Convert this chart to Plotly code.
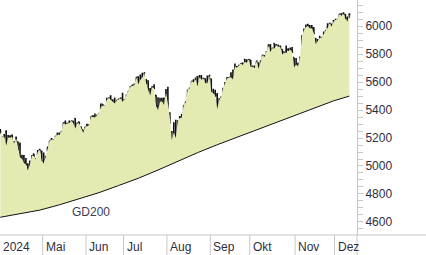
import plotly.graph_objects as go

dates = [
 "2024-04-01","2024-04-02","2024-04-03","2024-04-04","2024-04-05","2024-04-08","2024-04-09","2024-04-10","2024-04-11","2024-04-12",
 "2024-04-15","2024-04-16","2024-04-17","2024-04-18","2024-04-19","2024-04-22","2024-04-23","2024-04-24","2024-04-25","2024-04-26",
 "2024-04-29","2024-04-30",
 "2024-05-01","2024-05-02","2024-05-03","2024-05-06","2024-05-07","2024-05-08","2024-05-09","2024-05-10","2024-05-13","2024-05-14",
 "2024-05-15","2024-05-16","2024-05-17","2024-05-20","2024-05-21","2024-05-22","2024-05-23","2024-05-24","2024-05-28","2024-05-29",
 "2024-05-30","2024-05-31",
 "2024-06-03","2024-06-04","2024-06-05","2024-06-06","2024-06-07","2024-06-10","2024-06-11","2024-06-12","2024-06-13","2024-06-14",
 "2024-06-17","2024-06-18","2024-06-20","2024-06-21","2024-06-24","2024-06-25","2024-06-26","2024-06-27","2024-06-28",
 "2024-07-01","2024-07-02","2024-07-03","2024-07-05","2024-07-08","2024-07-09","2024-07-10","2024-07-11","2024-07-12","2024-07-15",
 "2024-07-16","2024-07-17","2024-07-18","2024-07-19","2024-07-22","2024-07-23","2024-07-24","2024-07-25","2024-07-26","2024-07-29",
 "2024-07-30","2024-07-31",
 "2024-08-01","2024-08-02","2024-08-05","2024-08-06","2024-08-07","2024-08-08","2024-08-09","2024-08-12","2024-08-13","2024-08-14",
 "2024-08-15","2024-08-16","2024-08-19","2024-08-20","2024-08-21","2024-08-22","2024-08-23","2024-08-26","2024-08-27","2024-08-28",
 "2024-08-29","2024-08-30",
 "2024-09-03","2024-09-04","2024-09-05","2024-09-06","2024-09-09","2024-09-10","2024-09-11","2024-09-12","2024-09-13","2024-09-16",
 "2024-09-17","2024-09-18","2024-09-19","2024-09-20","2024-09-23","2024-09-24","2024-09-25","2024-09-26","2024-09-27","2024-09-30",
 "2024-10-01","2024-10-02","2024-10-03","2024-10-04","2024-10-07","2024-10-08","2024-10-09","2024-10-10","2024-10-11","2024-10-14",
 "2024-10-15","2024-10-16","2024-10-17","2024-10-18","2024-10-21","2024-10-22","2024-10-23","2024-10-24","2024-10-25","2024-10-28",
 "2024-10-29","2024-10-30","2024-10-31",
 "2024-11-01","2024-11-04","2024-11-05","2024-11-06","2024-11-07","2024-11-08","2024-11-11","2024-11-12","2024-11-13","2024-11-14",
 "2024-11-15","2024-11-18","2024-11-19","2024-11-20","2024-11-21","2024-11-22","2024-11-25","2024-11-26","2024-11-27","2024-11-29",
 "2024-12-02","2024-12-03","2024-12-04","2024-12-05","2024-12-06","2024-12-09","2024-12-10","2024-12-11",
]

opens = [
 5258.0,5204.3,5194.4,5244.1,5159.0,5211.4,5217.0,5167.9,5173.0,5171.5,
 5149.7,5064.6,5069.0,5031.5,5005.4,4987.3,5028.9,5084.9,5019.9,5084.7,
 5114.1,5103.8,
 5029.0,5049.3,5122.8,5142.4,5187.2,5169.0,5189.0,5225.5,5233.1,5221.1,
 5263.3,5310.1,5303.1,5305.4,5298.7,5319.3,5340.3,5281.5,5315.9,5278.7,
 5259.8,5243.2,
 5297.2,5278.2,5314.5,5357.8,5343.8,5341.2,5353.0,5409.1,5441.9,5424.1,
 5431.1,5476.2,5500.0,5466.8,5459.6,5460.7,5460.7,5473.6,5488.5,
 5471.1,5461.8,5507.4,5537.9,5572.8,5584.2,5591.3,5635.2,5590.8,5638.2,
 5644.1,5610.2,5608.6,5543.4,5532.0,5565.3,5505.8,5428.7,5433.7,5476.6,
 5478.7,5505.6,
 5537.8,5376.6,5151.1,5206.4,5293.1,5252.6,5314.2,5351.9,5377.0,5442.7,
 5501.1,5530.5,5557.2,5602.9,5603.1,5637.8,5602.9,5639.7,5602.9,5624.5,
 5607.3,5612.7,
 5623.9,5506.7,5520.1,5507.3,5442.1,5490.5,5496.4,5557.5,5603.3,5615.1,
 5655.5,5641.7,5702.6,5709.2,5711.9,5727.1,5733.7,5762.2,5755.4,5726.5,
 5757.7,5698.1,5698.2,5737.8,5737.8,5719.1,5751.8,5778.4,5775.1,5829.8,
 5866.7,5816.6,5875.6,5859.4,5857.8,5832.7,5834.5,5817.8,5826.8,5833.9,
 5819.7,5832.7,5775.3,
 5723.2,5725.2,5722.4,5864.9,5947.2,5976.8,6008.9,6003.6,5985.8,5989.7,
 5912.8,5874.2,5870.6,5914.7,5924.5,5944.4,5992.3,6000.0,6014.1,6004.0,
 6040.1,6041.7,6069.4,6089.0,6081.4,6083.0,6057.6,6060.2,
]

highs = [
 5264.0,5208.3,5228.8,5256.6,5222.2,5219.6,5224.8,5178.4,5211.8,5175.0,
 5168.4,5079.8,5078.0,5056.7,5019.0,5038.8,5076.1,5089.5,5057.8,5114.6,
 5123.5,5110.8,
 5096.1,5073.2,5139.1,5181.0,5200.2,5192.0,5215.3,5239.7,5237.3,5250.4,
 5311.8,5325.5,5305.5,5325.3,5324.3,5323.2,5341.9,5311.7,5315.9,5282.3,
 5260.2,5280.3,
 5302.1,5298.8,5354.2,5362.4,5375.1,5365.8,5376.0,5447.3,5441.9,5432.4,
 5488.5,5490.4,5505.5,5478.3,5490.7,5472.9,5483.1,5490.8,5523.6,
 5479.6,5509.7,5539.3,5570.3,5583.1,5590.8,5635.4,5642.5,5655.6,5666.9,
 5669.7,5622.5,5614.1,5557.5,5570.4,5585.3,5508.0,5491.6,5488.3,5487.7,
 5489.5,5551.5,
 5566.2,5383.9,5250.9,5312.3,5330.6,5328.0,5358.3,5371.2,5436.5,5463.2,
 5546.2,5562.0,5608.3,5620.5,5632.7,5643.2,5651.6,5651.4,5631.2,5627.0,
 5647.0,5651.4,
 5623.9,5553.0,5546.3,5522.5,5484.2,5497.9,5560.4,5600.7,5636.3,5636.1,
 5670.8,5689.8,5733.6,5715.1,5725.4,5735.3,5741.0,5767.4,5763.8,5765.1,
 5757.7,5719.1,5718.8,5753.3,5739.3,5757.6,5796.8,5795.0,5822.1,5871.4,
 5870.4,5846.5,5878.5,5872.2,5866.9,5863.0,5834.9,5817.8,5862.8,5842.9,
 5847.2,5850.9,5775.3,
 5772.5,5741.4,5783.4,5936.1,5983.8,6012.5,6017.3,6009.9,6008.2,5993.9,
 5915.2,5908.1,5931.7,5920.7,5963.4,5972.9,6020.8,6025.4,6020.2,6044.2,
 6053.6,6052.1,6089.8,6092.9,6100.0,6088.5,6069.7,6092.6,
]

lows = [
 5229.2,5184.1,5194.4,5146.1,5157.2,5197.4,5160.8,5138.7,5138.8,5107.9,
 5052.5,5039.8,5007.3,5001.9,4953.6,4969.4,5028.0,5047.0,4990.6,5073.1,
 5088.7,5035.3,
 5013.5,5011.1,5101.2,5142.4,5179.0,5165.9,5180.4,5209.7,5211.2,5218.0,
 5263.3,5296.2,5283.6,5302.4,5297.9,5286.0,5256.9,5278.4,5280.9,5262.7,
 5222.1,5191.7,
 5234.3,5257.6,5297.6,5335.4,5331.3,5331.5,5327.3,5409.1,5402.5,5403.8,
 5420.4,5471.3,5455.6,5452.0,5447.6,5446.6,5451.9,5467.5,5451.1,
 5446.5,5458.4,5507.4,5531.6,5562.5,5574.6,5586.4,5576.5,5590.4,5614.8,
 5639.0,5584.8,5522.8,5497.0,5529.0,5550.9,5420.0,5391.0,5430.7,5444.4,
 5401.0,5493.8,
 5410.4,5302.0,5119.3,5193.6,5195.5,5233.9,5300.6,5324.4,5377.0,5415.1,
 5501.1,5525.2,5550.7,5585.5,5591.6,5561.0,5584.2,5602.3,5593.5,5561.0,
 5583.7,5581.8,
 5521.1,5503.7,5494.0,5402.6,5434.5,5441.7,5407.0,5535.5,5601.7,5604.5,
 5614.1,5615.1,5686.4,5674.5,5704.2,5699.0,5712.1,5721.0,5727.3,5703.5,
 5681.3,5674.0,5677.0,5703.3,5686.9,5714.6,5745.0,5764.8,5775.1,5829.8,
 5804.5,5808.3,5840.3,5846.1,5824.3,5821.2,5762.4,5784.9,5800.0,5823.1,
 5802.4,5811.3,5702.9,
 5723.2,5696.5,5722.1,5864.9,5947.2,5971.6,5986.7,5960.1,5965.9,5942.3,
 5853.0,5866.0,5854.0,5860.6,5885.8,5944.4,5963.9,5992.3,5984.9,6004.0,
 6035.3,6031.8,6061.1,6071.5,6080.0,6048.6,6024.5,6060.2,
]

closes = [
 5243.8,5205.8,5211.5,5147.2,5204.3,5202.4,5209.9,5160.6,5199.1,5123.4,
 5061.8,5051.4,5022.2,5011.1,4967.2,5010.6,5070.6,5071.6,5048.4,5100.0,
 5116.2,5035.7,
 5018.4,5064.2,5127.8,5180.7,5187.7,5187.7,5214.1,5222.7,5221.4,5246.7,
 5308.2,5297.1,5303.3,5308.1,5321.4,5307.0,5267.8,5304.7,5306.0,5267.0,
 5235.5,5277.5,
 5283.4,5291.3,5354.0,5353.0,5347.0,5360.8,5375.3,5421.0,5433.7,5431.6,
 5473.2,5487.0,5473.2,5464.6,5447.9,5469.3,5477.9,5482.9,5460.5,
 5475.1,5509.0,5537.0,5567.2,5572.9,5577.0,5633.9,5584.5,5615.4,5631.2,
 5667.2,5588.3,5544.6,5505.0,5564.4,5555.7,5427.1,5399.2,5459.1,5463.5,
 5436.4,5522.3,
 5446.7,5346.6,5186.3,5240.0,5199.5,5319.3,5344.2,5344.4,5434.4,5455.2,
 5543.2,5554.3,5608.3,5597.1,5620.9,5570.6,5634.6,5616.8,5625.8,5592.2,
 5592.0,5648.4,
 5528.9,5520.1,5503.4,5408.4,5471.1,5495.5,5554.1,5595.8,5626.0,5633.1,
 5634.6,5618.3,5713.6,5702.6,5718.6,5732.9,5722.3,5745.4,5738.2,5762.5,
 5708.8,5709.5,5699.9,5751.1,5695.9,5751.1,5792.0,5780.1,5815.0,5859.9,
 5815.3,5842.5,5841.5,5864.7,5854.0,5851.2,5797.4,5809.9,5808.1,5823.5,
 5832.9,5813.7,5705.5,
 5728.8,5712.7,5782.8,5929.0,5973.1,5995.5,6001.4,5984.0,5985.4,5949.2,
 5870.6,5893.6,5917.0,5917.1,5948.7,5969.3,5987.4,6021.6,5998.7,6032.4,
 6047.2,6049.9,6086.5,6075.1,6090.3,6052.9,6034.9,6084.2,
]

# GD200 (200-day moving average) at selected days
ma_dates = ["2024-04-01","2024-04-15","2024-04-29","2024-05-13","2024-05-28","2024-06-11","2024-06-26",
            "2024-07-11","2024-07-25","2024-08-08","2024-08-22","2024-09-06","2024-09-20","2024-10-04",
            "2024-10-18","2024-11-01","2024-11-15","2024-11-29","2024-12-11"]
ma_values = [4633, 4656, 4684, 4722, 4764, 4809, 4860,
             4912, 4971, 5034, 5095, 5152, 5206, 5259,
             5311, 5365, 5417, 5466, 5500]

month_labels = ["2024", "Mai", "Jun", "Jul", "Aug", "Sep", "Okt", "Nov", "Dez"]

FILL = "#e5eab3"
BAR = "#111111"
AXIS = "#c8c8c8"
TXT = "#2e2e3e"

x_lo, x_hi = -0.14, 180.9
y_lo, y_hi = 4506, 6188

fig = go.Figure()
fig.add_trace(go.Scatter(x=ma_dates, y=ma_values, mode="lines",
                         line=dict(width=0, color=FILL), hoverinfo="skip", showlegend=False))
fig.add_trace(go.Scatter(x=dates, y=closes, mode="lines", fill="tonexty", fillcolor=FILL,
                         line=dict(width=0, color=FILL), hoverinfo="skip", showlegend=False))
fig.add_trace(go.Ohlc(x=dates, open=opens, high=highs, low=lows, close=closes,
                      increasing=dict(line=dict(color=BAR, width=1.6)),
                      decreasing=dict(line=dict(color=BAR, width=1.6)),
                      tickwidth=0.5, showlegend=False))
fig.add_trace(go.Scatter(x=ma_dates, y=ma_values, mode="lines",
                         line=dict(width=1.0, color="#111111"), showlegend=False))

# month boundaries from the dates
bounds = []
prev = None
for i, d in enumerate(dates):
    m = d[:7]
    if m != prev:
        bounds.append(i - 0.5)
        prev = m

shapes = []
annotations = []
for b, lab in zip(bounds, month_labels):
    xb = max(b, x_lo)
    shapes.append(dict(type="line", xref="x", yref="paper", x0=b, x1=b, y0=0, y1=-0.1,
                       line=dict(color=AXIS, width=1)))
    annotations.append(dict(x=xb, xref="x", y=-0.052, yref="paper", text=lab, showarrow=False,
                            xanchor="left", yanchor="middle", xshift=1,
                            font=dict(family="Liberation Sans, Arial", size=12, color=TXT)))

# bottom axis line extending across the right margin, and y-axis line into bottom margin
shapes.append(dict(type="line", xref="paper", yref="paper", x0=0, x1=1.2, y0=0, y1=0,
                   line=dict(color=AXIS, width=1)))
shapes.append(dict(type="line", xref="paper", yref="paper", x0=1, x1=1, y0=0, y1=-0.1,
                   line=dict(color=AXIS, width=1)))

annotations.append(dict(x=35.3, xref="x", y=4670, yref="y", text="GD200", showarrow=False,
                        xanchor="left", yanchor="middle",
                        font=dict(family="Liberation Sans, Arial", size=12, color="#3a3a5a")))

fig.update_layout(
    width=426, height=255,
    margin=dict(l=0, r=69, t=0, b=20),
    paper_bgcolor="white", plot_bgcolor="white",
    shapes=shapes, annotations=annotations,
    xaxis=dict(type="category", categoryorder="array", categoryarray=dates,
               range=[x_lo, x_hi], showticklabels=False, ticks="", showgrid=False,
               zeroline=False, showline=False, rangeslider=dict(visible=False), fixedrange=True),
    yaxis=dict(side="right", range=[y_lo, y_hi], tick0=4600, dtick=200,
               ticks="outside", ticklen=5, tickcolor=AXIS, showgrid=False, zeroline=False,
               showline=True, linecolor=AXIS, linewidth=1,
               tickfont=dict(family="Liberation Sans, Arial", size=12, color=TXT),
               minor=dict(dtick=50, tick0=4600, ticks="outside", ticklen=5, tickcolor=AXIS, showgrid=False)),
)

fig.write_html("out.html")
